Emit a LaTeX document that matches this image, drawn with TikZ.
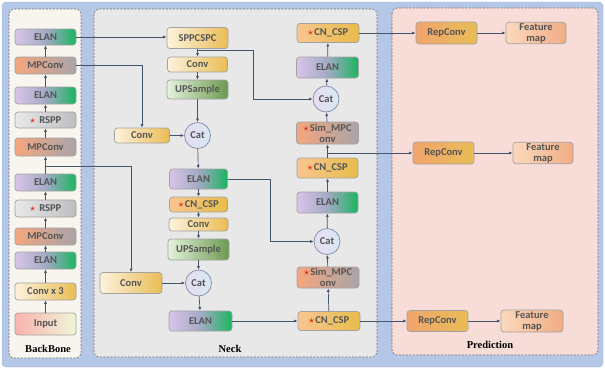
\documentclass[tikz,border=0pt]{standalone}
\usepackage{fontspec}
\setmainfont{Liberation Serif}
\newfontfamily\boxfont{Carlito}
\usetikzlibrary{arrows.meta,positioning}
\definecolor{BgBlue}{HTML}{B4C7E7}
\definecolor{BgEdge}{HTML}{9FB4DA}
\definecolor{PanelLine}{HTML}{6E6E6E}
\definecolor{BackFill}{HTML}{F7F5EE}
\definecolor{NeckFill}{HTML}{E8E8E8}
\definecolor{PredFill}{HTML}{F7DCD8}
\definecolor{BoxLine}{HTML}{A2A2A2}
\definecolor{BoxInk}{HTML}{545454}
\definecolor{LinkInk}{HTML}{44546A}
\definecolor{StarRed}{HTML}{E3120B}
\definecolor{ElanL}{HTML}{D9C4E8}
\definecolor{ElanM}{HTML}{A2AAC4}
\definecolor{ElanR}{HTML}{1AB55F}
\definecolor{MpL}{HTML}{F5A67D}
\definecolor{MpR}{HTML}{A9A4A8}
\definecolor{RsL}{HTML}{E8E8E8}
\definecolor{RsR}{HTML}{BEBEBE}
\definecolor{CvL}{HTML}{FDF2DC}
\definecolor{CvR}{HTML}{EABD55}
\definecolor{InL}{HTML}{F9B3AF}
\definecolor{InR}{HTML}{EEF5D8}
\definecolor{UpL}{HTML}{E4F2DB}
\definecolor{UpR}{HTML}{6B9A50}
\definecolor{CsL}{HTML}{F8C690}
\definecolor{CsR}{HTML}{E7BC4A}
\definecolor{RpL}{HTML}{F1A46D}
\definecolor{RpR}{HTML}{E8BD55}
\definecolor{FmL}{HTML}{FBD9BD}
\definecolor{FmR}{HTML}{F0AC84}
\definecolor{CatL}{HTML}{E6DDF0}
\definecolor{CatR}{HTML}{D8E8F4}
\definecolor{CatLine}{HTML}{7F8DAA}
\newcommand{\starmark}{\textcolor{StarRed}{$\star$}\hspace{1pt}}

\begin{document}
\begin{tikzpicture}[x=1pt,y=-1pt,
  box/.style={draw=BoxLine,line width=0.7pt,rounded corners=3pt,text=BoxInk,
    font=\boxfont\bfseries\fontsize{10.5}{11}\selectfont,align=center,
    minimum width=61pt,minimum height=17pt,inner sep=1pt},
  elan/.style={box,left color=ElanL,right color=ElanR,middle color=ElanM},
  mpconv/.style={box,left color=MpL,right color=MpR},
  rspp/.style={box,left color=RsL,right color=RsR},
  conv/.style={box,left color=CvL,right color=CvR},
  inbox/.style={box,left color=InL,right color=InR},
  upbox/.style={box,left color=UpL,right color=UpR},
  csp/.style={box,left color=CsL,right color=CsR},
  rep/.style={box,left color=RpL,right color=RpR},
  feat/.style={box,left color=FmL,right color=FmR},
  cat/.style={circle,draw=CatLine,line width=0.7pt,left color=CatL,right color=CatR,
    text=BoxInk,font=\boxfont\bfseries\fontsize{10.5}{11}\selectfont,
    minimum size=26pt,inner sep=0pt},
  panel/.style={draw=PanelLine,line width=0.6pt,dash pattern=on 2pt off 1.5pt,rounded corners=5pt},
  title/.style={font=\bfseries\fontsize{10.5}{12}\selectfont,text=black},
  link/.style={draw=LinkInk,line width=0.7pt,-{Latex[length=3.5pt,width=3pt]}}]
  \useasboundingbox (0,0) rectangle (605,370);
  \fill[BgBlue,draw=BgEdge,rounded corners=4pt] (2,2) rectangle (603,367);

  % panels
  \draw[panel,fill=BackFill] (9,9) rectangle (81,358);
  \draw[panel,fill=NeckFill] (94,9) rectangle (377,357);
  \draw[panel,fill=PredFill] (392,8) rectangle (598,355);
  \node[title] (tBack) at (48,349) {BackBone};
  \node[title] (tNeck) at (230,349) {Neck};
  \node[title] (tPred) at (490,345) {Prediction};

  % backbone
  \node[elan,minimum height=16pt] (bELAN1) at (45.5,37) {ELAN};
  \node[mpconv] (bMP1) at (45.5,65.5) {MPConv};
  \node[elan] (bELAN2) at (45.5,95.5) {ELAN};
  \node[rspp,minimum height=16pt] (bRSPP1) at (45.5,120) {\starmark\hspace{3pt}RSPP};
  \node[mpconv,minimum height=18pt] (bMP2) at (45.5,147) {MPConv};
  \node[elan] (bELAN3) at (45.5,182.5) {ELAN};
  \node[rspp] (bRSPP2) at (45.5,208.5) {\starmark\hspace{3pt}RSPP};
  \node[mpconv] (bMP3) at (45.5,236.5) {MPConv};
  \node[elan] (bELAN4) at (45.5,260.5) {ELAN};
  \node[conv] (bConv) at (45.5,291.5) {Conv x 3};
  \node[inbox,minimum height=22pt] (bInput) at (45.5,324) {Input};
  \foreach \a/\b in {bInput/bConv,bConv/bELAN4,bELAN4/bMP3,bMP3/bRSPP2,bRSPP2/bELAN3,
      bELAN3/bMP2,bMP2/bRSPP1,bRSPP1/bELAN2,bELAN2/bMP1,bMP1/bELAN1}
    \draw[link] (\a) -- (\b);
  \coordinate (tapB) at (45.5,166);

  % neck, down path
  \node[conv,minimum height=21pt] (nSPP) at (197.5,38) {SPPCSPC};
  \node[conv,minimum width=60pt,minimum height=15pt] (nConv1) at (197.5,64.5) {Conv};
  \node[upbox,minimum height=19pt] (nUp1) at (197.5,89.5) {UPSample};
  \node[cat] (nCat1) at (197.5,135.5) {Cat};
  \node[conv,minimum width=55pt,minimum height=15pt] (nConvA) at (142,135.5) {Conv};
  \node[elan,minimum width=58pt,minimum height=20pt] (nELAN1) at (198.5,179) {ELAN};
  \node[csp,minimum width=58pt,minimum height=15pt] (nCSP1) at (198.5,204.5) {\starmark CN\_CSP};
  \node[conv,minimum width=59pt,minimum height=13pt] (nConv2) at (198.5,224.5) {Conv};
  \node[upbox,minimum height=21pt] (nUp2) at (198.5,249.5) {UPSample};
  \node[cat] (nCat2) at (198.5,283) {Cat};
  \node[conv,minimum width=62pt,minimum height=21pt] (nConvB) at (131,283) {Conv};
  \node[elan,minimum width=63pt,minimum height=20pt] (nELAN2) at (200.5,321) {ELAN};
  \foreach \a/\b in {nSPP/nConv1,nConv1/nUp1,nUp1/nCat1,nConvA/nCat1,nCat1/nELAN1,
      nELAN1/nCSP1,nCSP1/nConv2,nConv2/nUp2,nUp2/nCat2,nConvB/nCat2,nCat2/nELAN2}
    \draw[link] (\a) -- (\b);
  \coordinate (tapA) at (197.5,50);

  % neck, up path
  \node[csp,minimum width=62pt,minimum height=19pt] (rCSP1) at (328,33) {\starmark CN\_CSP};
  \node[elan,minimum width=62pt,minimum height=21pt] (rELAN1) at (327.5,67.5) {ELAN};
  \node[cat] (rCat1) at (326,99) {Cat};
  \node[mpconv,minimum width=62pt,minimum height=22pt] (rSim1) at (327.5,133) {\starmark Sim\_MPC\\onv};
  \node[csp,minimum width=61pt,minimum height=20pt] (rCSP2) at (327.5,168) {\starmark CN\_CSP};
  \node[elan,minimum width=61pt,minimum height=21pt] (rELAN2) at (327.5,202.5) {ELAN};
  \node[cat] (rCat2) at (327,241.5) {Cat};
  \node[mpconv,minimum width=62pt,minimum height=21pt] (rSim2) at (328,277.5) {\starmark Sim\_MPC\\onv};
  \node[csp,minimum width=62pt,minimum height=19pt] (rCSP3) at (329,321) {\starmark CN\_CSP};
  \foreach \a/\b in {rCSP3/rSim2,rSim2/rCat2,rCat2/rELAN2,rELAN2/rCSP2,rCSP2/rSim1,
      rSim1/rCat1,rCat1/rELAN1,rELAN1/rCSP1}
    \draw[link] (\a) -- (\b);
  \coordinate (tapC) at (327.5,153);

  % prediction
  \node[rep,minimum height=22pt] (pRep1) at (446.5,33) {RepConv};
  \node[feat,minimum width=60pt,minimum height=21pt] (pFeat1) at (536,33) {Feature\\map};
  \node[rep,minimum height=22pt] (pRep2) at (443.5,153) {RepConv};
  \node[feat,minimum width=60pt,minimum height=21pt] (pFeat2) at (543,153) {Feature\\map};
  \node[rep,minimum height=21pt] (pRep3) at (437.5,321) {RepConv};
  \node[feat,minimum width=62pt,minimum height=22pt] (pFeat3) at (532,321) {Feature\\map};
  \foreach \a/\b in {pRep1/pFeat1,pRep2/pFeat2,pRep3/pFeat3}
    \draw[link] (\a) -- (\b);

  % cross links
  \draw[link] (bELAN1) -- (nSPP.west |- bELAN1);
  \draw[link] (bMP1.east) -| (nConvA);
  \draw[link] (tapB) -| (nConvB);
  \draw[link] (tapA) -- ++(55.5,0) |- (rCat1);
  \draw[link] (nELAN1.east) -- ++(42,0) |- (rCat2);
  \draw[link] (nELAN2) -- (rCSP3);
  \draw[link] (rCSP1) -- (pRep1);
  \draw[link] (tapC) -- (pRep2);
  \draw[link] (rCSP3) -- (pRep3);
\end{tikzpicture}
\end{document}
